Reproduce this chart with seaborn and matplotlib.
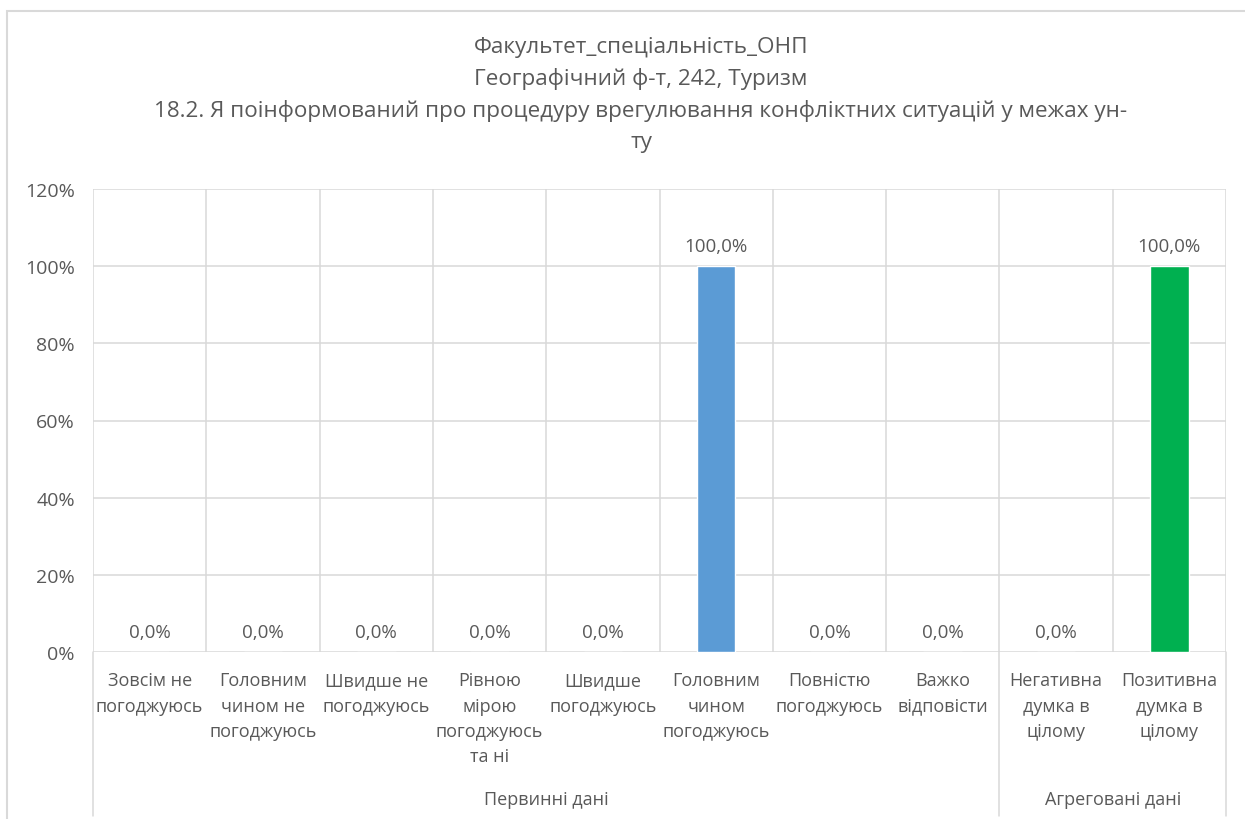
import seaborn as sns
import matplotlib.pyplot as plt
import pandas as pd
from matplotlib.patches import Rectangle
from matplotlib.ticker import FuncFormatter

# chart data
categories = ["Зовсім не\nпогоджуюсь", "Головним\nчином не\nпогоджуюсь", "Швидше не\nпогоджуюсь",
              "Рівною\nмірою\nпогоджуюсь\nта ні", "Швидше\nпогоджуюсь", "Головним\nчином\nпогоджуюсь",
              "Повністю\nпогоджуюсь", "Важко\nвідповісти", "Негативна\nдумка в\nцілому",
              "Позитивна\nдумка в\nцілому"]
values = [0.0, 0.0, 0.0, 0.0, 0.0, 1.0, 0.0, 0.0, 0.0, 1.0]
groups = ["Первинні дані"] * 8 + ["Агреговані дані"] * 2
group_names = ["Первинні дані", "Агреговані дані"]
group_colors = {"Первинні дані": "#5B9BD5", "Агреговані дані": "#00B050"}
title_lines = ["Факультет_спеціальність_ОНП", "Географічний ф-т, 242, Туризм",
               "18.2. Я поінформований про процедуру врегулювання конфліктних ситуацій у межах ун-", "ту"]

df = pd.DataFrame({"cat": categories, "val": values, "grp": groups})

sns.set_style("white")
plt.rcParams['font.family'] = ['Open Sans', 'DejaVu Sans']
txt = "#595959"
grid = "#D9D9D9"

fig = plt.figure(figsize=[12.45, 8.2], dpi=100)
ax = fig.add_axes([93/1245, 1-653/820, (1226-93)/1245, (653-190)/820])

sns.barplot(data=df, x="cat", y="val", hue="grp", palette=group_colors, dodge=False,
            width=0.34, ax=ax, legend=False, saturation=1)

ax.set_ylim(0, 1.2)
ax.set_xlim(-0.5, len(categories) - 0.5)
ax.set_yticks([0, 0.2, 0.4, 0.6, 0.8, 1.0, 1.2])
ax.yaxis.set_major_formatter(FuncFormatter(lambda v, p: f"{v*100:.0f}%"))
ax.set_xlabel("")
ax.set_ylabel("")

# gridlines
for y in ax.get_yticks():
    ax.axhline(y, color=grid, lw=1.1, zorder=0)
for i in range(len(categories) + 1):
    ax.axvline(i - 0.5, color=grid, lw=1.1, zorder=0)
for s in ax.spines.values():
    s.set_visible(False)

ax.tick_params(axis='y', length=0, pad=13, labelsize=14, labelcolor=txt)
ax.tick_params(axis='x', length=0, pad=14, labelsize=13, labelcolor=txt)
for lab in ax.get_xticklabels():
    lab.set_linespacing(1.52)
    lab.set_va('top')

# data labels
for c in ax.containers:
    ax.bar_label(c, labels=[f"{b.get_height()*100:.1f}%".replace(".", ",") for b in c],
                 padding=8, fontsize=13.5, color=txt)

# group separators and labels
yb = -(817 - 653) / (653 - 190) * 1.2
for xs in [-0.5, 7.5, 9.5]:
    ax.plot([xs, xs], [0, yb], color=grid, lw=1.1, clip_on=False)
gy = -(800 - 653) / (653 - 190) * 1.2
ax.text(3.5, gy, group_names[0], ha='center', va='center', fontsize=13, color=txt, clip_on=False)
ax.text(8.5, gy, group_names[1], ha='center', va='center', fontsize=13, color=txt, clip_on=False)

# title, one line at a time
for line, ypix in zip(title_lines, [48, 79, 111, 143]):
    fig.text(641/1245, 1 - ypix/820, line, ha='center', va='center', fontsize=16.2, color=txt)

# chart area border
fig.patches.append(Rectangle((7/1245, -0.01), 1.02, 1 - 12/820 + 0.01, transform=fig.transFigure,
                             fill=False, edgecolor=grid, lw=1.5))

fig.savefig('out.png', dpi=100)
